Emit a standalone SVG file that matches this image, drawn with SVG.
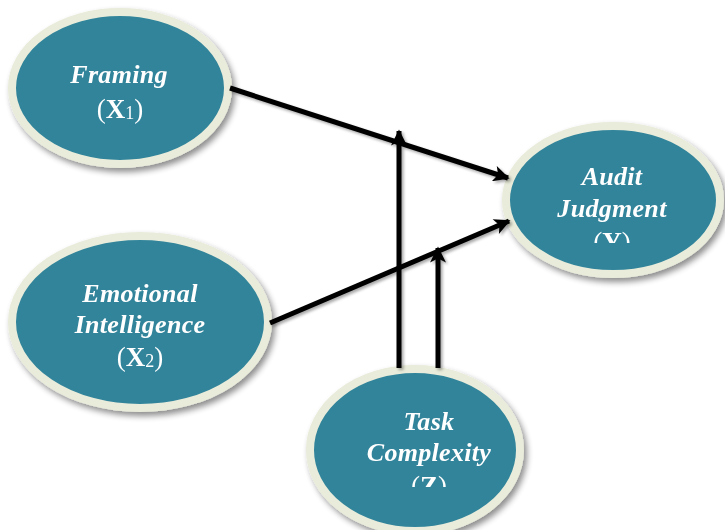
<svg xmlns="http://www.w3.org/2000/svg" width="725" height="530" viewBox="0 0 725 530">
  <defs>
    <filter id="shadow" x="-20%" y="-20%" width="150%" height="150%">
      <feGaussianBlur in="SourceAlpha" stdDeviation="3"/>
      <feOffset dx="3" dy="4" result="b"/>
      <feComponentTransfer><feFuncA type="linear" slope="0.45"/></feComponentTransfer>
      <feMerge><feMergeNode/><feMergeNode in="SourceGraphic"/></feMerge>
    </filter>
    <filter id="lineShadow" x="-20%" y="-20%" width="140%" height="140%">
      <feGaussianBlur in="SourceAlpha" stdDeviation="1.5"/>
      <feOffset dx="2" dy="2" result="b"/>
      <feComponentTransfer><feFuncA type="linear" slope="0.35"/></feComponentTransfer>
      <feMerge><feMergeNode/><feMergeNode in="SourceGraphic"/></feMerge>
    </filter>
    <marker id="arrow" viewBox="0 0 10 10" refX="9" refY="5" markerWidth="3.4" markerHeight="3.2" markerUnits="strokeWidth" orient="auto">
      <path d="M0,0 L10,5 L0,10 L2.5,5 Z" fill="#000"/>
    </marker>
    <clipPath id="clipY"><rect x="480" y="100" width="245" height="143"/></clipPath>
    <clipPath id="clipZ"><rect x="290" y="350" width="260" height="137"/></clipPath>
  </defs>
  <style>
    .rim { fill: #31849b; stroke: #e9ecda; stroke-width: 8; }
    .name { font-family: "Liberation Serif", "Times New Roman", serif; font-weight: bold; font-style: italic; font-size: 26px; letter-spacing: 0.3px; fill: #ffffff; text-anchor: middle; }
    .var { font-family: "Liberation Serif", "Times New Roman", serif; font-weight: normal; font-size: 27px; fill: #ffffff; text-anchor: middle; }
    .b { font-weight: bold; }
    .sub { font-size: 18px; }
    .edge { stroke: #000; stroke-width: 5; fill: none; marker-end: url(#arrow); }
  </style>

  <g id="node-framing" filter="url(#shadow)">
    <ellipse class="rim" cx="120" cy="88" rx="108" ry="76"/>
    <text class="name" x="119" y="83">Framing</text>
    <text class="var" x="120" y="118">(<tspan class="b">X</tspan><tspan class="sub" dy="1">1</tspan><tspan dy="-1">)</tspan></text>
  </g>

  <g id="node-emotional" filter="url(#shadow)">
    <ellipse class="rim" cx="140" cy="322" rx="128" ry="86"/>
    <text class="name" x="140" y="302">Emotional</text>
    <text class="name" x="140" y="333">Intelligence</text>
    <text class="var" x="140" y="366">(<tspan class="b">X</tspan><tspan class="sub" dy="1">2</tspan><tspan dy="-1">)</tspan></text>
  </g>

  <g id="node-audit" filter="url(#shadow)">
    <ellipse class="rim" cx="613" cy="200" rx="107" ry="74"/>
    <g clip-path="url(#clipY)">
      <text class="name" x="612" y="185">Audit</text>
      <text class="name" x="612" y="217">Judgment</text>
      <text class="var" x="612" y="251">(<tspan class="b">Y</tspan>)</text>
    </g>
  </g>

  <g id="node-task" filter="url(#shadow)">
    <ellipse class="rim" cx="415" cy="450" rx="105" ry="81"/>
    <g clip-path="url(#clipZ)">
      <text class="name" x="429" y="430">Task</text>
      <text class="name" x="429" y="461">Complexity</text>
      <text class="var" x="429" y="495">(<tspan class="b">Z</tspan>)</text>
    </g>
  </g>

  <g id="connectors" filter="url(#lineShadow)">
    <line class="edge" x1="230" y1="88" x2="508" y2="178"/>
    <line class="edge" x1="270" y1="323" x2="509" y2="221"/>
    <line class="edge" x1="399" y1="368" x2="399" y2="131"/>
    <line class="edge" x1="438" y1="368" x2="438" y2="248"/>
  </g>
</svg>
